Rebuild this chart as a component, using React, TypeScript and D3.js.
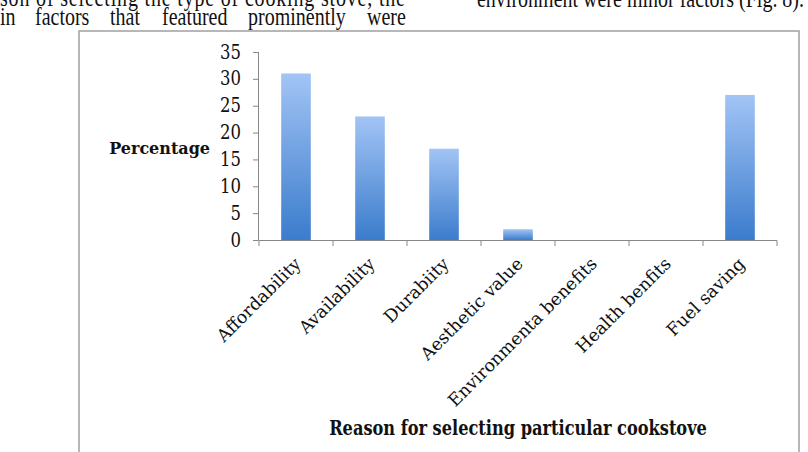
import React, { useMemo } from "react";
import * as d3 from "d3";

const W = 808;
const H = 452;

const categories = [
  "Affordability",
  "Availability",
  "Durabiity",
  "Aesthetic value",
  "Environmenta benefits",
  "Health benfits",
  "Fuel saving",
];
const percentages = [31, 23, 17, 2, 0, 0, 27];
const yTicks = [0, 5, 10, 15, 20, 25, 30, 35];

const line1 = "son of selecting the type of cooking stove, the";
const line2Words = ["in", "factors", "that", "featured", "prominently", "were"];
const line2X = [0, 35, 110, 162, 248, 367];
const rightLine = "environment were minor factors (Fig. 8).";

const CHART_FONT = "'DejaVu Serif', serif";
const BODY_FONT = "'Liberation Serif', 'Times New Roman', serif";

// the source figure is squeezed sideways, so its text looks tall
const BODY_STRETCH = 1.3;
const CHART_STRETCH = 1.2;

const App = () => {
  const x = useMemo(
    () => d3.scaleBand<string>().domain(categories).range([259, 777]).paddingInner(0.6).paddingOuter(0.3),
    []
  );
  const y = useMemo(() => d3.scaleLinear().domain([0, 35]).range([240, 52]), []);

  const step = x.step();
  const x0 = 259;
  const boundaries = d3.range(categories.length + 1).map((i) => x0 + i * step);

  return (
    <div style={{ position: "fixed", left: 0, top: 0, width: W, height: H, background: "#fff" }}>
      <svg width={W} height={H} style={{ display: "block" }}>
        <defs>
          <linearGradient id="barGrad" x1="0" y1="0" x2="0" y2="1">
            <stop offset="0%" stopColor="#a2c4f5" />
            <stop offset="100%" stopColor="#3b7ccc" />
          </linearGradient>
        </defs>

        {/* surrounding page text */}
        <g fontFamily={BODY_FONT} fontSize={20} fill="#111">
          <text transform={`translate(0,6) scale(1,${BODY_STRETCH})`} textLength={405} lengthAdjust="spacing">
            {line1}
          </text>
          {line2Words.map((w, i) => (
            <text key={w} transform={`translate(${line2X[i]},25) scale(1,${BODY_STRETCH})`}>
              {w}
            </text>
          ))}
          <text transform={`translate(477,7) scale(1,${BODY_STRETCH})`}>{rightLine}</text>
        </g>

        {/* figure frame */}
        <rect x={79} y={31} width={720} height={440} fill="none" stroke="#a0a0a0" strokeWidth={1.5} />

        {/* y axis */}
        <g fontFamily={CHART_FONT} fontSize={16.5} fill="#111">
          <line x1={258.5} x2={258.5} y1={y(35)} y2={y(0)} stroke="#888" />
          {yTicks.map((t) => (
            <g key={t}>
              <line x1={253} x2={258.5} y1={y(t) + 0.5} y2={y(t) + 0.5} stroke="#888" />
              <text
                transform={`translate(241,${y(t) + 6.5}) scale(1,${CHART_STRETCH})`}
                textAnchor="end"
              >
                {t}
              </text>
            </g>
          ))}
        </g>
        <text
          transform={`translate(210,154) scale(1,1.05)`}
          textAnchor="end"
          fontFamily={CHART_FONT}
          fontWeight="bold"
          fontSize={16}
          fill="#111"
        >
          Percentage
        </text>

        {/* bars */}
        {categories.map((c, i) => (
          <rect
            key={c}
            x={x(c)}
            y={y(percentages[i])}
            width={x.bandwidth()}
            height={y(0) - y(percentages[i])}
            fill="url(#barGrad)"
          />
        ))}

        {/* x axis */}
        <line x1={258.5} x2={777} y1={240.5} y2={240.5} stroke="#888" />
        {boundaries.map((b, i) => (
          <line key={i} x1={b} x2={b} y1={240.5} y2={246} stroke="#888" />
        ))}
        {categories.map((c) => {
          const cx = (x(c) ?? 0) + x.bandwidth() / 2 + 6;
          const cy = 265;
          return (
            <text
              key={c}
              x={cx}
              y={cy}
              textAnchor="end"
              transform={`rotate(-45, ${cx}, ${cy})`}
              fontFamily={CHART_FONT}
              fontSize={17.5}
              fill="#111"
            >
              {c}
            </text>
          );
        })}
        <text
          transform={`translate(518,435) scale(1,1.28)`}
          textAnchor="middle"
          fontFamily={CHART_FONT}
          fontWeight="bold"
          fontSize={16.2}
          fill="#111"
        >
          Reason for selecting particular cookstove
        </text>
      </svg>
    </div>
  );
};

export default App;
